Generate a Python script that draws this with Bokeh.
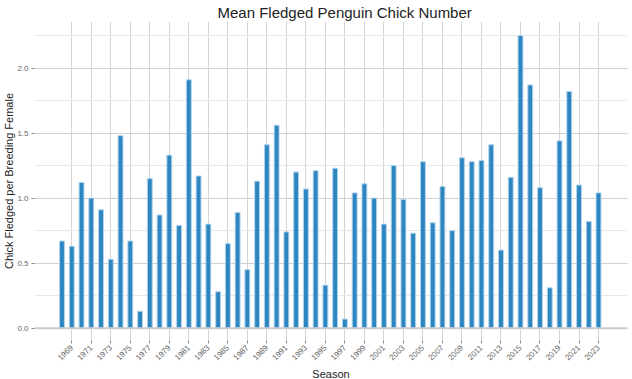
from math import pi
from bokeh.plotting import figure
from bokeh.models import Range1d, FixedTicker, SingleIntervalTicker, NumeralTickFormatter, Span, Title
from bokeh.embed import file_html
from bokeh.resources import INLINE

seasons = list(range(1968, 2024))
chicks = [0.67, 0.63, 1.12, 1.00, 0.91, 0.53, 1.48, 0.67, 0.13, 1.15,
          0.87, 1.33, 0.79, 1.91, 1.17, 0.80, 0.28, 0.65, 0.89, 0.45,
          1.13, 1.41, 1.56, 0.74, 1.20, 1.07, 1.21, 0.33, 1.23, 0.07,
          1.04, 1.11, 1.00, 0.80, 1.25, 0.99, 0.73, 1.28, 0.81, 1.09,
          0.75, 1.31, 1.28, 1.29, 1.41, 0.60, 1.16, 2.25, 1.87, 1.08,
          0.31, 1.44, 1.82, 1.10, 0.82, 1.04]
x_ticks = seasons[1::2]

title_text = "Mean Fledged Penguin Chick Number"
x_title = "Season"
y_title = "Chick Fledged per Breeding Female"

FONT = "Liberation Sans"

p = figure(width=632, height=379, output_backend="svg", toolbar_location=None,
           x_range=Range1d(1965.18, 2025.97), y_range=Range1d(-0.095, 2.358),
           min_border_left=0, min_border_right=5, min_border_top=20, min_border_bottom=0)
p.outline_line_color = None
p.background_fill_color = "white"

p.title.text = title_text
p.title.align = "left"
p.title.offset = 183
p.title.standoff = 2
p.title.text_font = FONT
p.title.text_font_size = "15px"
p.title.text_font_style = "normal"
p.title.text_color = "#222222"

p.vbar(x=seasons, top=chicks, width=0.5, bottom=0,
       fill_color="#2E86C1", line_color="#AFD3EE", line_width=1)

p.add_layout(Span(location=0, dimension="width", line_color="#cccccc", line_width=2))

# x axis
p.xaxis.ticker = FixedTicker(ticks=x_ticks)
p.xaxis.major_label_orientation = pi / 4
# y axis
p.yaxis.ticker = SingleIntervalTicker(interval=0.5, num_minor_ticks=2)
p.yaxis.formatter = NumeralTickFormatter(format="0.0")

for ax in (p.xaxis, p.yaxis):
    ax.axis_line_color = None
    ax.major_tick_line_color = "#888888"
    ax.major_tick_out = 3
    ax.major_tick_in = 0
    ax.minor_tick_line_color = None
    ax.major_label_text_font = FONT
    ax.major_label_text_font_size = "8px"
    ax.major_label_text_color = "#666666"
p.xaxis.major_label_standoff = 3
p.yaxis.major_label_standoff = 2

p.add_layout(Title(text=x_title, align="center", standoff=0, text_font=FONT,
                   text_font_size="11px", text_font_style="normal",
                   text_color="#222222"), "below")
p.add_layout(Title(text=y_title, align="center", standoff=0, text_font=FONT,
                   text_font_size="11px", text_font_style="normal",
                   text_color="#222222"), "left")

p.xgrid.grid_line_color = "#d4d4d4"
p.ygrid.grid_line_color = "#d0d0d0"
p.ygrid.minor_grid_line_color = "#e8e8e8"

open("out.html", "w").write(file_html(p, INLINE))
